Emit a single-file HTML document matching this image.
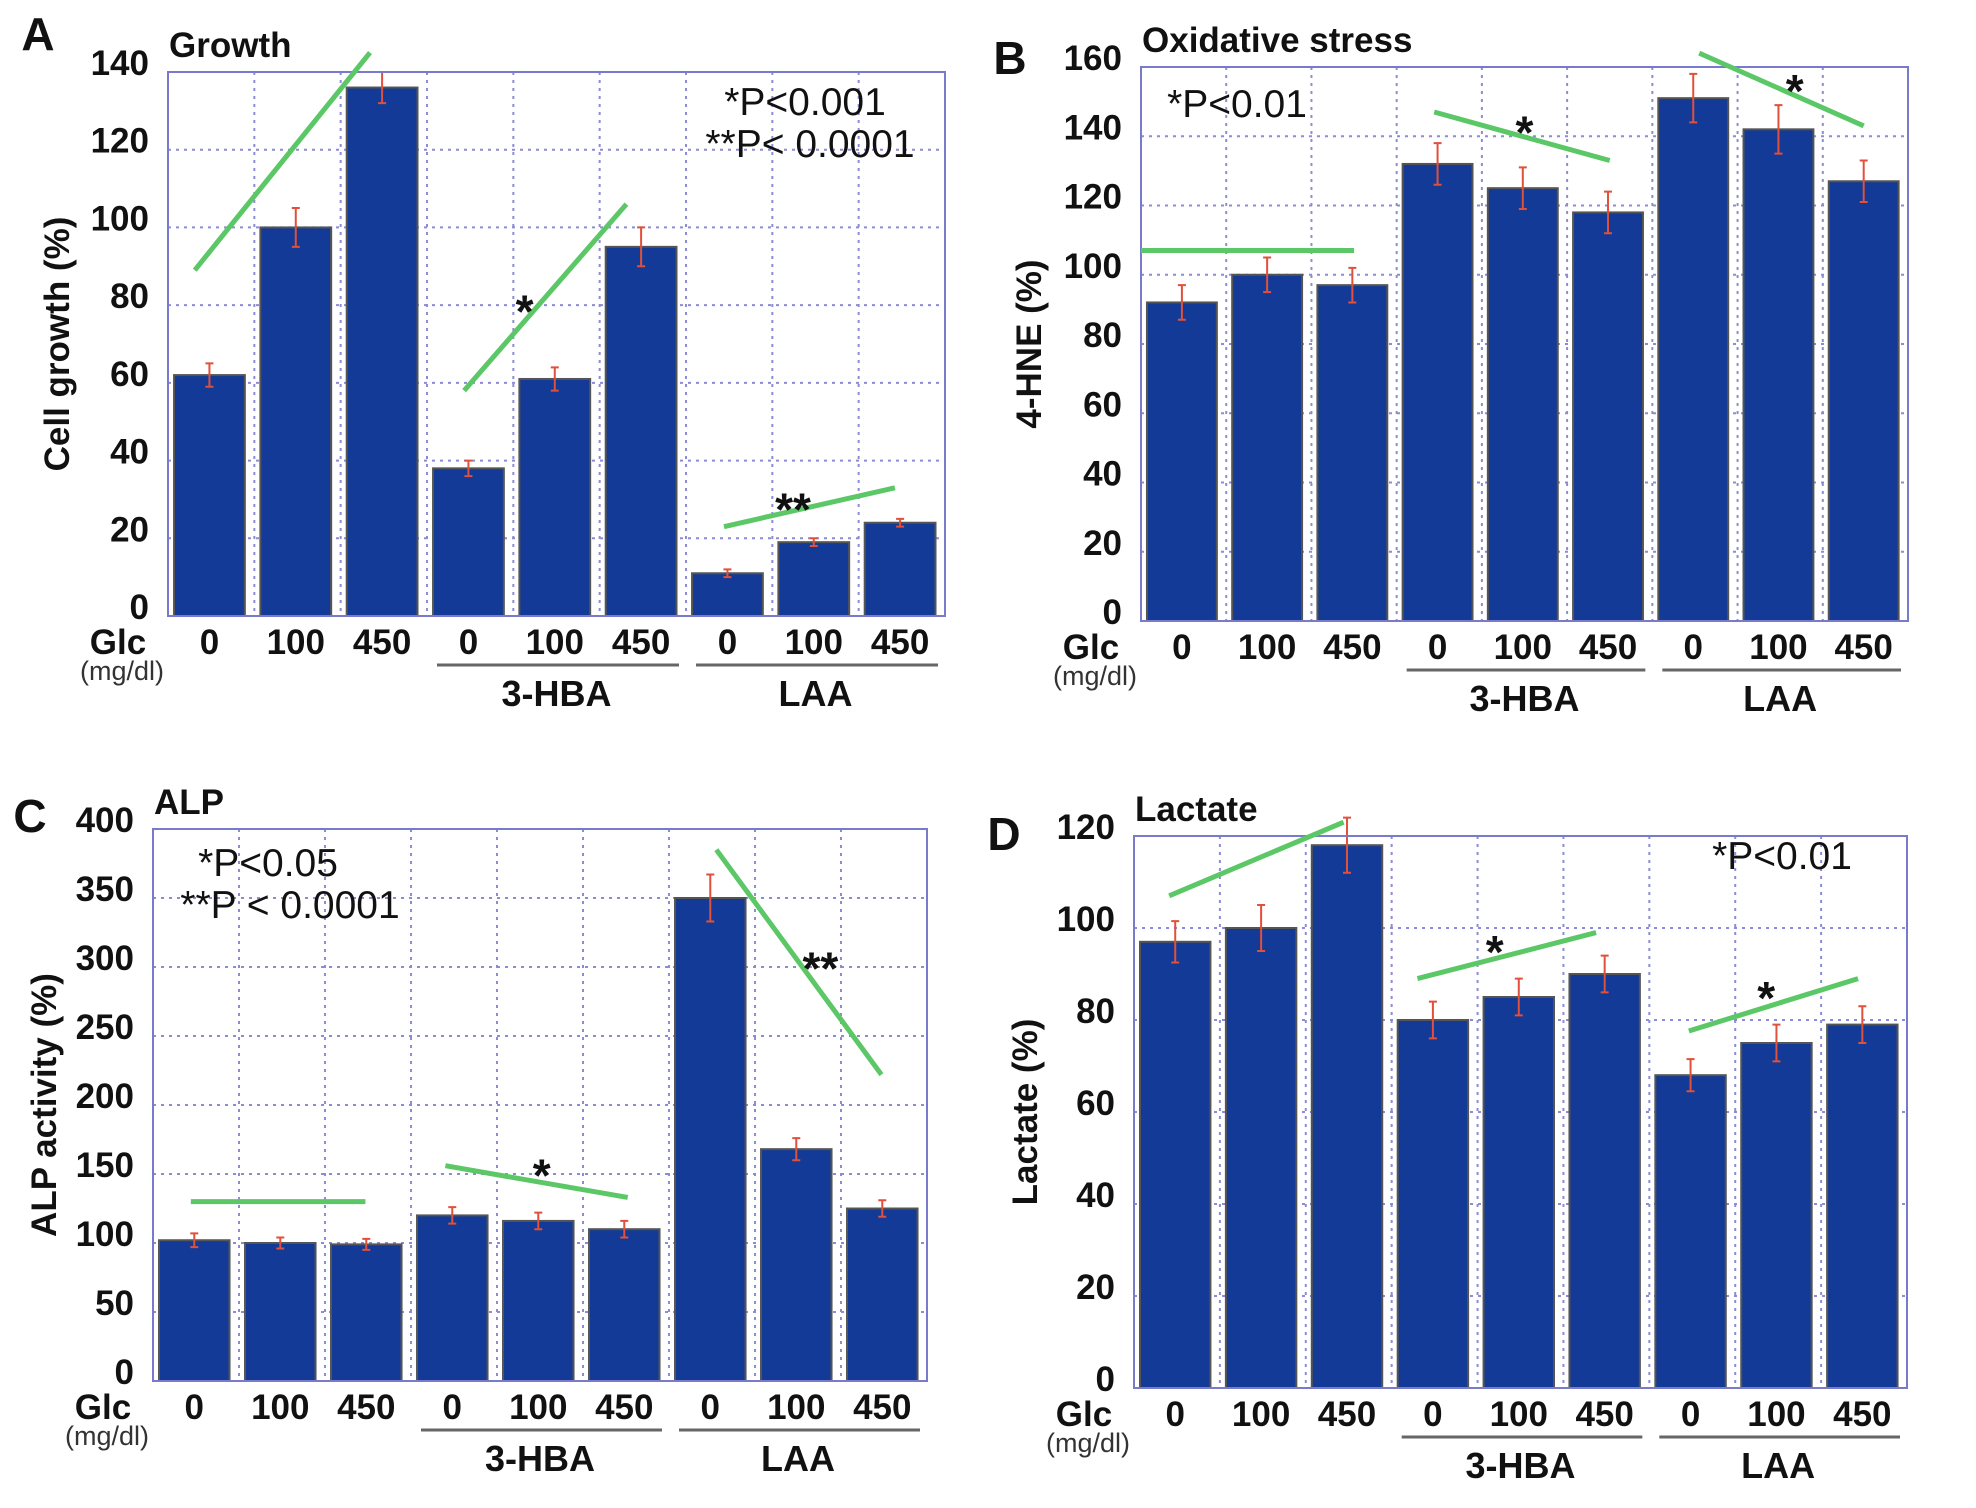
<!DOCTYPE html>
<html><head><meta charset="utf-8">
<style>
html,body{margin:0;padding:0;background:#fff;}
svg{display:block;font-family:"Liberation Sans",Arial,sans-serif;}
</style></head>
<body>
<svg id="fig" width="1976" height="1508" viewBox="0 0 1976 1508" xmlns="http://www.w3.org/2000/svg"></svg>
<script>
// ---- Data (shared categories) ----
const glcLabels = ["0","100","450","0","100","450","0","100","450"];
const groupNames = ["3-HBA","LAA"];
// Panel A: Growth
const growthValues = [62,100,136,38,61,95,11,19,24];
const growthErrors = [3,5,4,2,3,5,1,1,1];
const growthTicks = [0,20,40,60,80,100,120,140];
// Panel B: Oxidative stress
const hneValues = [92,100,97,132,125,118,151,142,127];
const hneErrors = [5,5,5,6,6,6,7,7,6];
const hneTicks = [0,20,40,60,80,100,120,140,160];
// Panel C: ALP
const alpValues = [102,100,99,120,116,110,350,168,125];
const alpErrors = [5,4,4,6,6,6,17,8,6];
const alpTicks = [0,50,100,150,200,250,300,350,400];
// Panel D: Lactate
const lactateValues = [97,100,118,80,85,90,68,75,79];
const lactateErrors = [4.5,5,6,4,4,4,3.5,4,4];
const lactateTicks = [0,20,40,60,80,100,120];

const NS="http://www.w3.org/2000/svg";
const svg=document.getElementById('fig');
function mk(tag,attrs,parent){const e=document.createElementNS(NS,tag);for(const k in attrs)e.setAttribute(k,attrs[k]);(parent||svg).appendChild(e);return e;}
function txt(s,attrs,parent){const e=mk('text',attrs,parent);e.textContent=s;return e;}

function panel(cfg){
  const g=mk('g',{});
  
  
  const L=cfg.box[0],T=cfg.box[1],R=cfg.box[2],B=cfg.box[3];
  const ymax=cfg.ticks[cfg.ticks.length-1];
  const y=v=>B-(v/ymax)*(B-T);
  const sw=(R-L)/9;
  const x=s=>L+s*sw;
  cfg.ticks.forEach((t,i)=>{
    if(i>0&&i<cfg.ticks.length-1){const l=mk('line',{x1:L,x2:R,y1:y(t),y2:y(t),stroke:'#8c8cd6','stroke-width':2,'stroke-dasharray':'3,5'},g);
    
    }
    const tl=txt(String(t),{x:L-19,y:y(t)+3,'text-anchor':'end','font-size':35,'font-weight':'bold',fill:'#111'},g);
    
    
  });
  for(let s=1;s<9;s++){const l=mk('line',{x1:x(s),x2:x(s),y1:T,y2:B,stroke:'#8c8cd6','stroke-width':2,'stroke-dasharray':'3,5'},g);
    
    }
  cfg.values.forEach((v,i)=>{
    const r=mk('rect',{x:x(i)+sw*0.07,y:y(v),width:sw*0.82,height:B-y(v),fill:'#123a96',stroke:'#555','stroke-width':2},g);
    
    
    const cx=x(i)+sw*0.48, e=cfg.errors[i];
    const eb=mk('path',{d:`M${cx},${y(v+e)}V${y(v-e)}M${cx-4},${y(v+e)}H${cx+4}M${cx-4},${y(v-e)}H${cx+4}`,stroke:'#e0503a','stroke-width':2,fill:'none'},g);
    
    
  });
  const f=mk('rect',{x:L,y:T,width:R-L,height:B-T,fill:'none',stroke:'#7a7acc','stroke-width':2},g);
  
  
  cfg.trends.forEach(tr=>{
    const l=mk('line',{x1:x(tr[0]),y1:y(tr[1]),x2:x(tr[2]),y2:y(tr[3]),stroke:'#5cc766','stroke-width':5},g);
    
    
  });
  cfg.stars.forEach(st=>{
    const s=txt(st[2],{x:x(st[0]),y:y(st[1])+26,'text-anchor':'middle','font-size':46,'font-weight':'bold',fill:'#111'},g);
    
    
  });
  cfg.notes.forEach(n=>{
    const s=txt(n[2],{x:n[0],y:n[1],'text-anchor':'middle','font-size':39,fill:'#111'},g);
    
    
  });
  glcLabels.forEach((lab,i)=>{
    const s=txt(lab,{x:x(i)+sw*0.48,y:B+38,'text-anchor':'middle','font-size':35,'font-weight':'bold',fill:'#111'},g);
    
    
  });
  const glc=txt('Glc',{x:L-50,y:B+38,'text-anchor':'middle','font-size':35,'font-weight':'bold',fill:'#111'},g);
  
  
  const mg=txt('(mg/dl)',{x:L-46,y:B+64,'text-anchor':'middle','font-size':27,fill:'#333'},g);
  
  
  groupNames.forEach((gn,k)=>{
    const s0=3+3*k;
    const ul=mk('line',{x1:x(s0)+10,x2:x(s0+3)-7,y1:B+49,y2:B+49,stroke:'#666','stroke-width':3},g);
    
    
    const t=txt(gn,{x:x(s0+1.5),y:B+90,'text-anchor':'middle','font-size':36,'font-weight':'bold',fill:'#111'},g);
    
    
  });
  const ttl=txt(cfg.title,{x:L+1,y:T-15,'font-size':35,'font-weight':'bold',fill:'#111'},g);
  
  
  const lt=txt(cfg.letter,{x:cfg.letterPos[0],y:cfg.letterPos[1],'text-anchor':'middle','font-size':46,'font-weight':'bold',fill:'#111'},g);
  
  
  const cy=(T+B)/2;
  const yt=txt(cfg.ylabel,{x:cfg.ytx,y:cy,'text-anchor':'middle','font-size':35,'font-weight':'bold',fill:'#111',transform:`rotate(-90 ${cfg.ytx} ${cy})`,dy:12},g);
  
  
}

panel({name:'panel-a-growth',box:[168,72,945,616],values:growthValues,errors:growthErrors,ticks:growthTicks,
  trends:[[0.31,89,2.34,145],[3.43,58,5.31,106],[6.44,23,8.42,33]],
  stars:[[4.13,81,'*'],[7.24,30,'**']],
  notes:[[805,115,'*P<0.001'],[810,157,'**P< 0.0001']],
  title:'Growth',letter:'A',letterPos:[38,50],ylabel:'Cell growth (%)',ytx:57});
panel({name:'panel-b-oxidative-stress',box:[1141,67,1908,621],values:hneValues,errors:hneErrors,ticks:hneTicks,
  trends:[[0,107,2.5,107],[3.44,147,5.5,133],[6.55,164,8.48,143]],
  stars:[[4.5,144,'*'],[7.67,156,'*']],
  notes:[[1237,117,'*P<0.01']],
  title:'Oxidative stress',letter:'B',letterPos:[1010,74],ylabel:'4-HNE (%)',ytx:1029});
panel({name:'panel-c-alp',box:[153,829,927,1381],values:alpValues,errors:alpErrors,ticks:alpTicks,
  trends:[[0.44,130,2.47,130],[3.4,156,5.52,133],[6.55,385,8.47,222]],
  stars:[[4.52,156,'*'],[7.76,306,'**']],
  notes:[[268,876,'*P<0.05'],[290,918,'**P < 0.0001']],
  title:'ALP',letter:'C',letterPos:[30,832],ylabel:'ALP activity (%)',ytx:44});
panel({name:'panel-d-lactate',box:[1134,836,1907,1388],values:lactateValues,errors:lactateErrors,ticks:lactateTicks,
  trends:[[0.41,107,2.44,123],[3.3,89,5.38,99],[6.46,77.6,8.43,89]],
  stars:[[4.2,97,'*'],[7.36,87,'*']],
  notes:[[1782,869,'*P<0.01']],
  title:'Lactate',letter:'D',letterPos:[1004,850],ylabel:'Lactate (%)',ytx:1025});
</script>
</body></html>
